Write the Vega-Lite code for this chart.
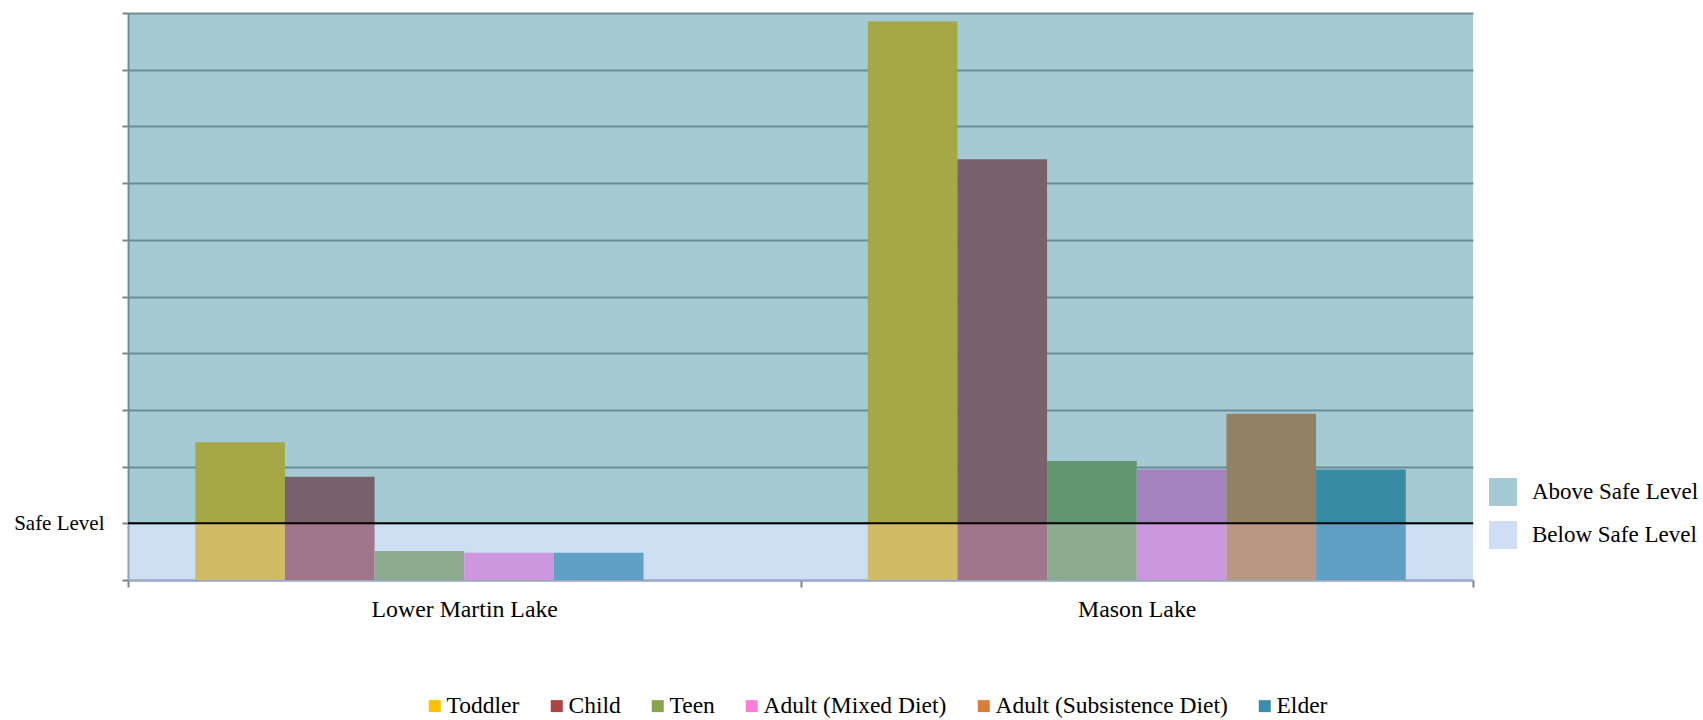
{
  "$schema": "https://vega.github.io/schema/vega-lite/v6.json",
  "width": 1345,
  "height": 567,
  "autosize": {"type": "none"},
  "padding": {"left": 128, "top": 13, "right": 230, "bottom": 140},
  "background": "white",
  "config": {"view": {"stroke": null}, "font": "Liberation Serif"},
  "datasets": {
    "bars": [
      {"lake": "Lower Martin Lake", "group": "Toddler", "level": 2.43},
      {"lake": "Lower Martin Lake", "group": "Child", "level": 1.82},
      {"lake": "Lower Martin Lake", "group": "Teen", "level": 0.51},
      {"lake": "Lower Martin Lake", "group": "Adult (Mixed Diet)", "level": 0.48},
      {"lake": "Lower Martin Lake", "group": "Elder", "level": 0.48},
      {"lake": "Mason Lake", "group": "Toddler", "level": 9.85},
      {"lake": "Mason Lake", "group": "Child", "level": 7.42},
      {"lake": "Mason Lake", "group": "Teen", "level": 2.1},
      {"lake": "Mason Lake", "group": "Adult (Mixed Diet)", "level": 1.95},
      {"lake": "Mason Lake", "group": "Adult (Subsistence Diet)", "level": 2.93},
      {"lake": "Mason Lake", "group": "Elder", "level": 1.95}
    ],
    "bands": [
      {"band": "Above Safe Level", "lo": 1, "hi": 10},
      {"band": "Below Safe Level", "lo": 0, "hi": 1}
    ],
    "safe": [{"safe": 1}]
  },
  "layer": [
    {
      "data": {"name": "bars"},
      "transform": [{"window": [{"op": "row_number", "as": "slot"}], "groupby": ["lake"]}],
      "mark": {"type": "bar"},
      "encoding": {
        "x": {
          "field": "lake", "type": "nominal", "sort": null,
          "scale": {"paddingInner": 0, "paddingOuter": 0},
          "axis": {
            "title": null, "labelAngle": 0, "labelFontSize": 23.8, "labelFont": "Liberation Serif",
            "labelColor": "black", "labelBaseline": "alphabetic", "labelPadding": 29, "labelLimit": 0,
            "tickBand": "extent", "tickSize": 7, "tickColor": "#808080", "tickWidth": 2,
            "domainColor": "#9AAAC2", "domainWidth": 2, "grid": false
          }
        },
        "xOffset": {"field": "slot", "type": "ordinal", "scale": {"paddingInner": 0, "paddingOuter": 0.75}},
        "y": {
          "field": "level", "type": "quantitative",
          "scale": {"domain": [0, 10], "nice": false},
          "axis": {
            "title": null, "values": [0, 1, 2, 3, 4, 5, 6, 7, 8, 9, 10],
            "labelExpr": "datum.value == 1 ? 'Safe Level' : ''",
            "labelFontSize": 21, "labelFont": "Liberation Serif", "labelColor": "black",
            "labelPadding": 18, "labelBaseline": "middle",
            "tickSize": 6, "tickColor": "#808080", "tickWidth": 2,
            "domainColor": "#929292", "domainWidth": 2,
            "grid": true, "gridColor": "#929292", "gridWidth": 2
          }
        },
        "color": {
          "field": "group", "type": "nominal",
          "scale": {
            "domain": ["Toddler", "Child", "Teen", "Adult (Mixed Diet)", "Adult (Subsistence Diet)", "Elder"],
            "range": ["#FFC000", "#AC4444", "#88A24D", "#FA7FD9", "#D97E38", "#398FAC"]
          },
          "legend": {
            "orient": "none", "legendX": 295, "legendY": 681, "direction": "horizontal", "columns": 6,
            "title": null, "symbolType": "square", "symbolSize": 144, "symbolStrokeWidth": 0,
            "symbolOpacity": 1,
            "labelFontSize": 23.5, "labelFont": "Liberation Serif", "labelColor": "black",
            "labelOffset": 0, "columnPadding": 25, "labelLimit": 0
          }
        }
      }
    },
    {
      "data": {"name": "bands"},
      "mark": {"type": "rect", "opacity": 0.443},
      "encoding": {
        "y": {"field": "lo", "type": "quantitative", "title": null},
        "y2": {"field": "hi"},
        "color": {
          "field": "band", "type": "nominal",
          "scale": {"domain": ["Above Safe Level", "Below Safe Level"], "range": ["#36879C", "#93B7E4"]},
          "legend": {
            "orient": "none", "legendX": 1361, "legendY": 465, "direction": "vertical",
            "title": null, "symbolType": "square", "symbolSize": 784, "symbolOpacity": 0.443,
            "symbolStrokeWidth": 0,
            "labelFontSize": 23, "labelFont": "Liberation Serif", "labelColor": "black",
            "labelOffset": 15, "rowPadding": 15, "labelLimit": 0
          }
        }
      }
    },
    {
      "data": {"name": "safe"},
      "mark": {"type": "rule", "color": "black", "strokeWidth": 2},
      "encoding": {"y": {"field": "safe", "type": "quantitative", "title": null}}
    }
  ],
  "resolve": {"scale": {"color": "independent"}}
}
